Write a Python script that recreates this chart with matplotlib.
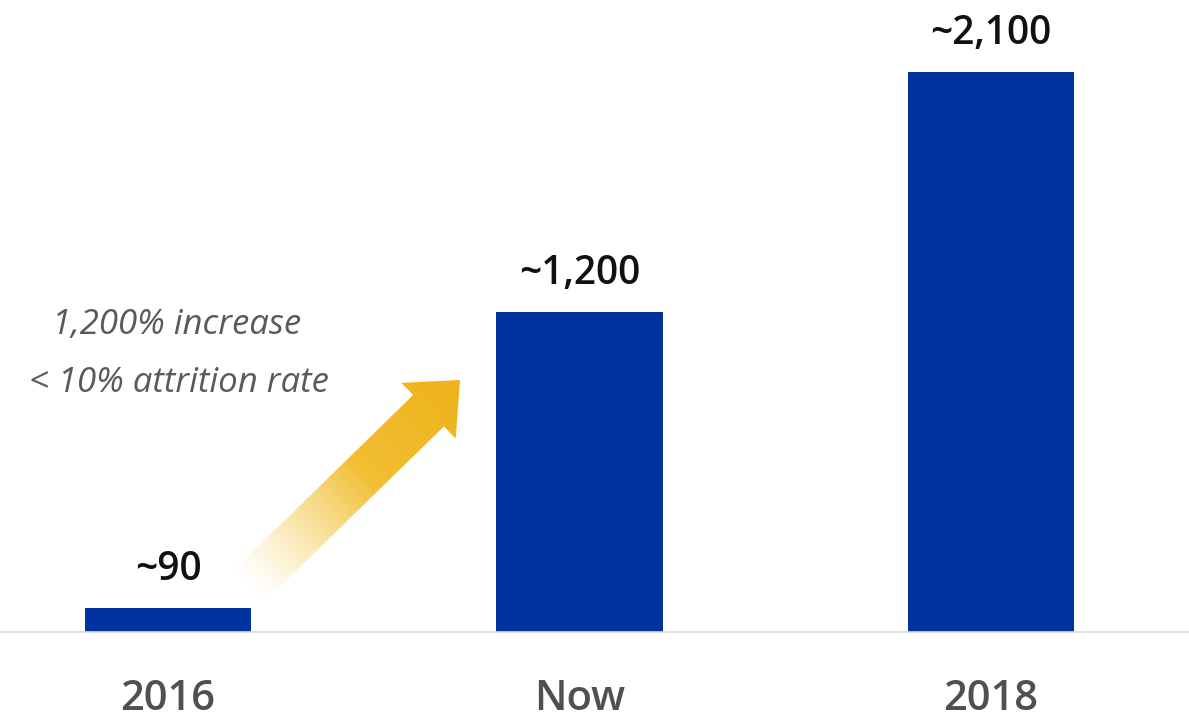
import matplotlib
matplotlib.use("Agg")
import matplotlib.pyplot as plt
import numpy as np
from matplotlib.patches import FancyArrow

categories = ["2016", "Now", "2018"]
values = [90, 1200, 2100]
value_labels = ["~90", "~1,200", "~2,100"]
note_lines = ["1,200% increase", "< 10% attrition rate"]

W, H = 1189, 719
fig = plt.figure(figsize=(W / 100, H / 100), dpi=100)
fig.patch.set_facecolor("white")

base_px = 632
ax = fig.add_axes([0, (H - base_px) / H, 1, base_px / H])
x = np.arange(len(categories))
ax.bar(x, values, width=0.405, color="#0033A0", zorder=2)
ax.set_xlim(-168 / 411.5, (W - 168) / 411.5)
ax.set_ylim(0, base_px / 0.2665)
for s in ["top", "left", "right"]:
    ax.spines[s].set_visible(False)
ax.spines["bottom"].set_color("#d9d9d9")
ax.spines["bottom"].set_linewidth(1.2)
ax.set_yticks([])
ax.set_xticks(x)
ax.set_xticklabels(categories, fontsize=30, color="#505050", family="Open Sans",
                   fontweight=600)
ax.tick_params(axis="x", length=0, pad=33)
for xi, v, lab in zip(x, values, value_labels):
    ax.annotate(lab, (xi, v), xytext=(0, 13), textcoords="offset points",
                ha="center", va="bottom", fontsize=28, color="#111111",
                family="Open Sans", fontweight=600)

# overlay in pixel coordinates for annotation arrow and notes
ov = fig.add_axes([0, 0, 1, 1])
ov.set_xlim(0, W)
ov.set_ylim(H, 0)
ov.axis("off")
ov.patch.set_alpha(0)

tail = np.array([250.0, 585.0])
tip = np.array([460.0, 380.0])
d = tip - tail
arrow = FancyArrow(tail[0], tail[1], d[0], d[1], width=44, head_width=78,
                   head_length=44, length_includes_head=True,
                   facecolor="none", edgecolor="none")
ov.add_patch(arrow)

# gradient image
yy, xx = np.mgrid[0:H, 0:W]
L = np.hypot(*d)
u = d / L
t = ((xx - tail[0]) * u[0] + (yy - tail[1]) * u[1]) / L
t = np.clip(t, 0, 1)
alpha = np.clip(t / 0.55, 0, 1) ** 1.1
c0 = np.array([0.97, 0.80, 0.32])
c1 = np.array([0.93, 0.70, 0.10])
mix = np.clip(t, 0, 1)[..., None]
rgb = c0 * (1 - mix) + c1 * mix
img = np.dstack([rgb, alpha])
im = ov.imshow(img, extent=(0, W, H, 0), origin="upper", zorder=3,
               interpolation="bilinear", aspect="auto")
im.set_clip_path(arrow)

for txt, yc, xc in zip(note_lines, [325, 383], [177, 179]):
    ov.text(xc, yc, txt, ha="center", va="center", fontsize=25,
            style="italic", color="#5a5a5a", family="Open Sans")

fig.savefig("out.png", dpi=100, facecolor="white")
